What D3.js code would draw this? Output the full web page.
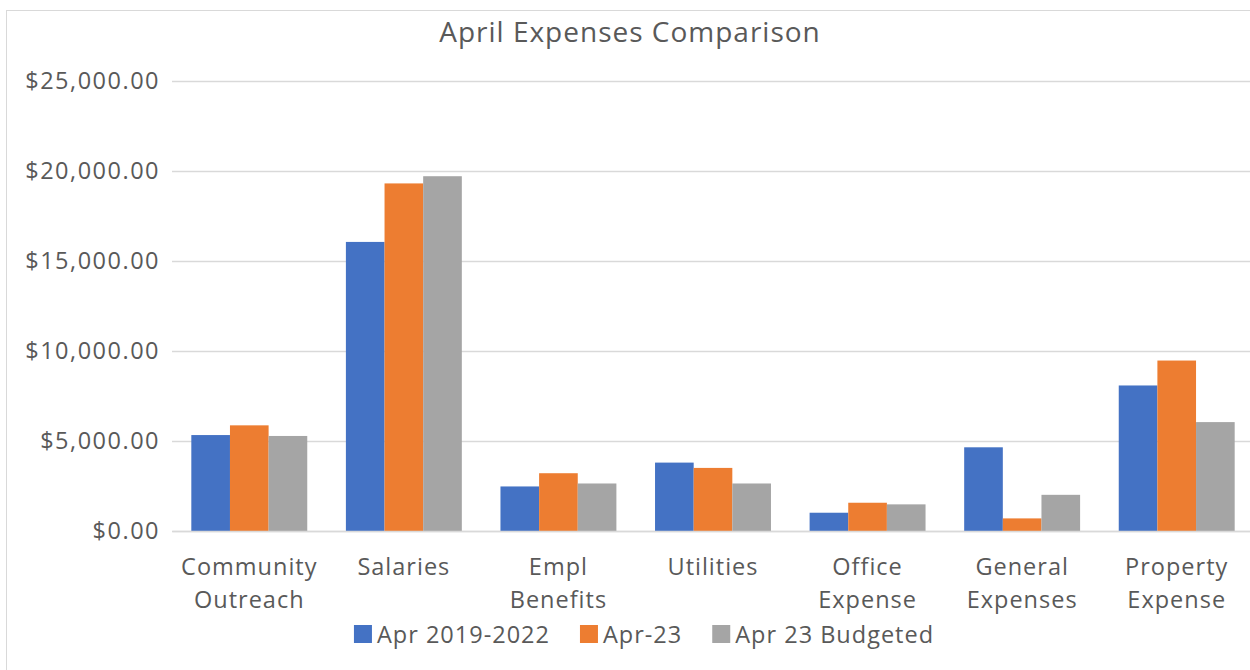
<!DOCTYPE html>
<html>
<head>
<meta charset="utf-8">
<script src="https://cdn.jsdelivr.net/npm/d3@7"></script>
<style>
  body { margin: 0; background: #fff; }
  text { font-family: "Open Sans", sans-serif; fill: #595959; }
</style>
</head>
<body>
<svg></svg>
<script>
const categories = ["Community Outreach", "Salaries", "Empl Benefits", "Utilities",
                    "Office Expense", "General Expenses", "Property Expense"];
const seriesNames = ["Apr 2019-2022", "Apr-23", "Apr 23 Budgeted"];
const apr2019to2022 = [5330, 16060, 2475, 3800, 1015, 4650, 8085];
const apr23 = [5870, 19310, 3210, 3505, 1570, 700, 9470];
const apr23Budgeted = [5280, 19710, 2640, 2640, 1480, 2010, 6050];
const yTicks = [0, 5000, 10000, 15000, 20000, 25000];
const colors = ["#4472C4", "#ED7D31", "#A5A5A5"];

const series = [apr2019to2022, apr23, apr23Budgeted];

const svgWidth = 1250, svgHeight = 670;
const plot = { left: 172, right: 1254, top: 81, bottom: 531 };

const svg = d3.select("svg")
    .attr("width", svgWidth)
    .attr("height", svgHeight);

// chart border (only top and left edges fall inside the picture)
svg.append("rect")
    .attr("x", 6.5).attr("y", 10.5)
    .attr("width", 1400).attr("height", 800)
    .attr("fill", "none")
    .attr("stroke", "#D9D9D9");

svg.append("text")
    .attr("x", 630).attr("y", 42)
    .attr("text-anchor", "middle")
    .style("font-size", "28px")
    .style("letter-spacing", "1px")
    .text("April Expenses Comparison");

const x = d3.scaleBand()
    .domain(categories)
    .range([plot.left, plot.right])
    .paddingInner(0.25)
    .paddingOuter(0.125);

const xInner = d3.scaleBand()
    .domain(d3.range(series.length))
    .range([0, x.bandwidth()]);

const y = d3.scaleLinear()
    .domain([0, 25000])
    .range([plot.bottom, plot.top]);

// y axis with gridlines
const yAxis = svg.append("g")
    .attr("transform", "translate(" + plot.left + ",0)")
    .call(d3.axisLeft(y)
        .tickValues(yTicks)
        .tickSize(-(plot.right - plot.left))
        .tickPadding(12)
        .tickFormat(function(d) { return "$" + d3.format(",.2f")(d); }));
yAxis.select(".domain").remove();
yAxis.selectAll("line").attr("stroke", "#D9D9D9").attr("stroke-width", 1.5);
yAxis.selectAll("text")
    .attr("fill", "#595959")
    .style("font-size", "23.5px")
    .style("letter-spacing", "1.5px")
    .style("font-family", "'Open Sans', sans-serif");

// bars
const groups = svg.append("g")
    .selectAll("g")
    .data(categories)
    .enter()
    .append("g")
    .attr("transform", function(d) { return "translate(" + x(d) + ",0)"; });

groups.selectAll("rect")
    .data(function(d, i) { return series.map(function(s, j) { return { j: j, v: s[i] }; }); })
    .enter()
    .append("rect")
    .attr("x", function(d) { return xInner(d.j); })
    .attr("y", function(d) { return y(d.v); })
    .attr("width", xInner.bandwidth())
    .attr("height", function(d) { return y(0) - y(d.v); })
    .attr("fill", function(d) { return colors[d.j]; });

// x axis
const xAxis = svg.append("g")
    .attr("transform", "translate(0," + plot.bottom + ")")
    .call(d3.axisBottom(x).tickSize(0).tickSizeOuter(0));
xAxis.select(".domain").attr("stroke", "#D9D9D9").attr("stroke-width", 1.5);
xAxis.selectAll(".tick text").each(function(d) {
  const t = d3.select(this);
  t.text(null).attr("y", null).attr("dy", null)
      .attr("fill", "#595959")
      .style("font-size", "23.5px")
      .style("letter-spacing", "1px")
      .style("font-family", "'Open Sans', sans-serif");
  d.split(" ").forEach(function(word, k) {
    t.append("tspan").attr("x", 0).attr("y", 44 + k * 33).text(word);
  });
});

// legend
const legend = svg.append("g");
const items = legend.selectAll("g")
    .data(seriesNames)
    .enter()
    .append("g");
items.append("rect")
    .attr("y", 625)
    .attr("width", 18).attr("height", 18)
    .attr("fill", function(d, i) { return colors[i]; });
items.append("text")
    .attr("x", 23).attr("y", 643)
    .style("font-size", "23.5px")
    .style("letter-spacing", "1px")
    .text(function(d) { return d; });

let offset = 0;
items.each(function() {
  const g = d3.select(this);
  g.attr("transform", "translate(" + offset + ",0)");
  offset += 23 + g.select("text").node().getComputedTextLength() + 30;
});
const legendWidth = offset - 30;
legend.attr("transform", "translate(" + (644 - legendWidth / 2) + ",0)");
</script>
</body>
</html>
